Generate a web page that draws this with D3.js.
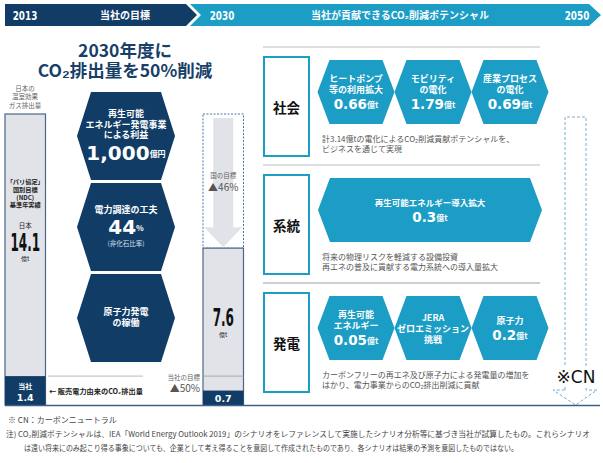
<!DOCTYPE html>
<html>
<head>
<meta charset="utf-8">
<script src="https://cdn.jsdelivr.net/npm/d3@7"></script>
<style>
  body { margin: 0; background: #fff; }
  svg { display: block; }
</style>
</head>
<body>
<div id="chart"></div>
<script>
// ---- data ----
const years = ["2013", "2030", "2050"];
const bannerTitles = ["当社の目標", "当社が貢献できるCO₂削減ポテンシャル"];

const japanEmissions = [14.1, 7.6];     // 億t (2013 basis, 2030)
const companyEmissions = [1.4, 0.7];    // 億t
const targetNames = ["国の目標", "当社の目標"];
const targetCuts = ["▲46%", "▲50%"];

const measureLabels = [["再生可能", "エネルギー発電事業", "による利益"], ["電力調達の工夫"], ["原子力発電", "の稼働"]];
const measureValues = ["1,000", "44", ""];
const measureUnits = ["億円", "%", ""];
const measureNotes = ["", "(非化石比率)", ""];

const categories = ["社会", "系統", "発電"];
const potentialLabels = [
  [["ヒートポンプ", "等の利用拡大"], ["モビリティ", "の電化"], ["産業プロセス", "の電化"]],
  [["再生可能エネルギー導入拡大"]],
  [["再生可能", "エネルギー"], ["JERA", "ゼロエミッション", "挑戦"], ["原子力"]]
];
const potentialValues = [[0.66, 1.79, 0.69], [0.3], [0.05, null, 0.2]];
const categoryNotes = [
  ["計3.14億tの電化によるCO₂削減貢献ポテンシャルを、", "ビジネスを通じて実現"],
  ["将来の物理リスクを軽減する設備投資", "再エネの普及に貢献する電力系統への導入量拡大"],
  ["カーボンフリーの再エネ及び原子力による発電量の増加を", "はかり、電力事業からのCO₂排出削減に貢献"]
];
const footnotes = [
  "※ CN：カーボンニュートラル",
  "注) CO₂削減ポテンシャルは、IEA「World Energy Outlook 2019」のシナリオをレファレンスして実施したシナリオ分析等に基づき当社が試算したもの。これらシナリオ",
  "は遠い将来にのみ起こり得る事象についても、企業として考え得ることを意図して作成されたものであり、各シナリオは結果の予測を意図したものではない。"
];

// ---- setup ----
const W = 603, H = 463;
const navy = "#113c66", teal = "#1b9dc5", barFill = "#e1e3e8", barLine = "#4d6687", dash = "#78acd6";
const jp = "'Noto Sans CJK JP', sans-serif";
const sans = "'DejaVu Sans', sans-serif";

const svg = d3.select("#chart").append("svg").attr("width", W).attr("height", H);

function hexPts(cx, cy, w, h, inset) {
  const x0 = cx - w / 2, x1 = cx + w / 2, y0 = cy - h / 2, y1 = cy + h / 2;
  return [[x0, cy], [x0 + inset, y0], [x1 - inset, y0], [x1, cy], [x1 - inset, y1], [x0 + inset, y1]]
    .map(p => p.join(",")).join(" ");
}

// condensed bold numbers (no narrow font installed, so squeeze horizontally)
function narrowText(parent, x, y, txt, size, sx, fill) {
  return parent.append("text")
    .attr("transform", `translate(${x},${y}) scale(${sx},1)`)
    .attr("text-anchor", "middle")
    .attr("font-family", sans).attr("font-weight", "bold").attr("font-size", size)
    .attr("fill", fill).text(txt);
}

// ---- banner ----
const banner = svg.append("g");
banner.append("polygon").attr("points", "5,4 186,4 197,15 186,26 5,26").attr("fill", navy);
banner.append("polygon").attr("points", "190,4 589,4 601,15 589,26 190,26 201,15").attr("fill", teal);
const yearX = d3.scaleOrdinal().domain(years).range([25, 222, 577]);
years.forEach(d => narrowText(banner, yearX(d), 20, d, 13, 0.68, "#fff"));
banner.selectAll("text.title").data(bannerTitles).join("text")
  .attr("class", "title")
  .attr("x", (d, i) => [125, 400][i]).attr("y", 19)
  .attr("text-anchor", "middle")
  .attr("font-family", jp).attr("font-weight", "bold").attr("font-size", 10)
  .attr("fill", "#fff").text(d => d);

// ---- headline ----
svg.append("text").attr("x", 125).attr("y", 57).attr("text-anchor", "middle")
  .attr("font-family", jp).attr("font-weight", "bold").attr("font-size", 17.5).attr("fill", "#173f68")
  .text("2030年度に");
svg.append("text").attr("x", 125).attr("y", 77).attr("text-anchor", "middle")
  .attr("font-family", jp).attr("font-weight", "bold").attr("font-size", 17.5).attr("fill", "#173f68")
  .text("CO₂排出量を50%削減");

// ---- emission bars ----
const y = d3.scaleLinear().domain([0, japanEmissions[0]]).range([405, 114]);
const barX = d3.scaleOrdinal().domain(years.slice(0, 2)).range([5, 203]);
const barW = 40.5;

// label above left bar
["日本の", "温室効果", "ガス排出量"].forEach((t, i) => {
  svg.append("text").attr("x", 25).attr("y", 91 + i * 8.3).attr("text-anchor", "middle")
    .attr("font-family", jp).attr("font-size", 6.5).attr("fill", "#666").text(t);
});

// dashed box + reduction arrow (2030)
const xr = barX("2030");
svg.append("rect").attr("x", xr).attr("y", y(japanEmissions[0]))
  .attr("width", barW).attr("height", y(japanEmissions[1]) - y(japanEmissions[0]))
  .attr("fill", "none").attr("stroke", "#4c74a6").attr("stroke-width", 1).attr("stroke-dasharray", "2,1.5");
{
  const cx = xr + barW / 2, top = y(japanEmissions[0]) + 4, tip = y(japanEmissions[1]) - 1;
  const headTop = tip - 20;
  svg.append("path")
    .attr("d", `M${cx - 10},${top} H${cx + 10} V${headTop} H${cx + 19} L${cx},${tip} L${cx - 19},${headTop} H${cx - 10} Z`)
    .attr("fill", barFill);
  svg.append("text").attr("x", cx).attr("y", 178).attr("text-anchor", "middle")
    .attr("font-family", jp).attr("font-size", 6.5).attr("fill", "#666").text(targetNames[0]);
  svg.append("text").attr("x", cx).attr("y", 191).attr("text-anchor", "middle")
    .attr("font-family", jp).attr("font-size", 10).attr("fill", "#555").text(targetCuts[0]);
}

// solid bars
const bars = svg.selectAll("g.bar").data(japanEmissions).join("g").attr("class", "bar");
bars.append("rect")
  .attr("x", (d, i) => barX(years[i])).attr("y", d => y(d))
  .attr("width", barW).attr("height", d => y(0) - y(d))
  .attr("fill", barFill).attr("stroke", barLine).attr("stroke-width", 1.2);
bars.append("rect")
  .attr("x", (d, i) => barX(years[i])).attr("y", (d, i) => y(companyEmissions[i]))
  .attr("width", barW).attr("height", (d, i) => y(0) - y(companyEmissions[i]))
  .attr("fill", navy);

// left bar texts
{
  const cx = barX("2013") + barW / 2;
  ["「パリ協定」", "国別目標", "(NDC)", "基準年実績"].forEach((t, i) => {
    svg.append("text").attr("x", cx).attr("y", 184 + i * 7.8).attr("text-anchor", "middle")
      .attr("font-family", jp).attr("font-weight", "bold").attr("font-size", 6.2).attr("fill", "#222").text(t);
  });
  svg.append("text").attr("x", cx).attr("y", 228).attr("text-anchor", "middle")
    .attr("font-family", jp).attr("font-size", 6.5).attr("fill", "#222").text("日本");
  narrowText(svg, cx, 251, japanEmissions[0], 24, 0.5, "#111");
  svg.append("text").attr("x", cx).attr("y", 261).attr("text-anchor", "middle")
    .attr("font-family", jp).attr("font-size", 6).attr("fill", "#222").text("億t");
  svg.append("text").attr("x", cx).attr("y", 389).attr("text-anchor", "middle")
    .attr("font-family", jp).attr("font-weight", "bold").attr("font-size", 7).attr("fill", "#fff").text("当社");
  svg.append("text").attr("x", cx).attr("y", 400.5).attr("text-anchor", "middle")
    .attr("font-family", sans).attr("font-weight", "bold").attr("font-size", 9.5).attr("fill", "#fff")
    .text(companyEmissions[0]);
}
// right bar texts
{
  const cx = xr + barW / 2;
  narrowText(svg, cx, 326, japanEmissions[1], 24, 0.5, "#111");
  svg.append("text").attr("x", cx).attr("y", 337).attr("text-anchor", "middle")
    .attr("font-family", jp).attr("font-size", 6).attr("fill", "#222").text("億t");
  svg.append("text").attr("x", cx).attr("y", 402).attr("text-anchor", "middle")
    .attr("font-family", sans).attr("font-weight", "bold").attr("font-size", 9.5).attr("fill", "#fff")
    .text(companyEmissions[1]);
}

// company target guide at 2013 company level
svg.append("line").attr("x1", 48).attr("x2", 143).attr("y1", y(companyEmissions[0])).attr("y2", y(companyEmissions[0]))
  .attr("stroke", "#bbb").attr("stroke-width", 1);
svg.append("line").attr("x1", xr).attr("x2", xr + barW).attr("y1", y(companyEmissions[0])).attr("y2", y(companyEmissions[0]))
  .attr("stroke", "#aaa").attr("stroke-width", 1);
svg.append("text").attr("x", 200).attr("y", 380).attr("text-anchor", "end")
  .attr("font-family", jp).attr("font-size", 6.5).attr("fill", "#666").text(targetNames[1]);
svg.append("text").attr("x", 200).attr("y", 392).attr("text-anchor", "end")
  .attr("font-family", jp).attr("font-size", 10).attr("fill", "#555").text(targetCuts[1]);
svg.append("text").attr("x", 49).attr("y", 394)
  .attr("font-family", jp).attr("font-weight", "bold").attr("font-size", 7.2).attr("fill", "#222")
  .text("← 販売電力由来のCO₂排出量");

// ---- measures hexagons ----
const hy = d3.scalePoint().domain(d3.range(measureLabels.length)).range([136, 318]);
const mg = svg.selectAll("g.measure").data(measureLabels).join("g").attr("class", "measure");
mg.append("polygon").attr("points", (d, i) => hexPts(126, hy(i), 98, 88, 14)).attr("fill", navy);
mg.each(function (d, i) {
  const g = d3.select(this);
  const lh = 10.5, vh = measureValues[i] ? 22 : 0, nh = measureNotes[i] ? 12 : 0;
  const total = d.length * lh + vh + nh;
  let yy = hy(i) - total / 2 - 1;
  d.forEach(t => {
    g.append("text").attr("x", 126).attr("y", yy + lh / 2).attr("dominant-baseline", "central")
      .attr("text-anchor", "middle").attr("font-family", jp).attr("font-weight", "bold")
      .attr("font-size", 9).attr("fill", "#fff").text(t);
    yy += lh;
  });
  if (vh) {
    const t = g.append("text").attr("x", 126).attr("y", yy + vh / 2 + 2).attr("dominant-baseline", "central")
      .attr("text-anchor", "middle").attr("fill", "#fff").attr("font-weight", "bold");
    t.append("tspan").attr("font-family", sans).attr("font-size", 20).text(measureValues[i]);
    t.append("tspan").attr("font-family", jp).attr("font-size", 8).text(measureUnits[i]);
    yy += vh;
  }
  if (nh) {
    g.append("text").attr("x", 126).attr("y", yy + nh / 2 + 1).attr("dominant-baseline", "central")
      .attr("text-anchor", "middle").attr("font-family", jp).attr("font-size", 6.5).attr("fill", "#dfe6ef")
      .text(measureNotes[i]);
  }
});

// ---- contribution potential panel ----
const rowTop = [57, 175, 293];
const hx = d3.scalePoint().domain([0, 1, 2]).range([356, 510]);
categories.forEach((cat, r) => {
  const top = rowTop[r];
  svg.append("line").attr("x1", 263).attr("x2", 540).attr("y1", top - 10).attr("y2", top - 10)
    .attr("stroke", "#bdbdbd").attr("stroke-width", 1);
  svg.append("rect").attr("x", 264).attr("y", top).attr("width", 45).attr("height", 99)
    .attr("fill", "#fff").attr("stroke", teal).attr("stroke-width", 2);
  svg.append("text").attr("x", 286.5).attr("y", top + 50).attr("dominant-baseline", "central")
    .attr("text-anchor", "middle").attr("font-family", jp).attr("font-weight", "bold")
    .attr("font-size", 13.5).attr("fill", "#111").text(cat);

  const cy = top + 35;
  const labels = potentialLabels[r];
  labels.forEach((lines, k) => {
    const single = labels.length === 1;
    const cx = single ? 430 : hx(k);
    const w = single ? 224 : 77;
    svg.append("polygon").attr("points", hexPts(cx, cy, w, 64, 12)).attr("fill", teal);
    const v = potentialValues[r][k];
    const lh = 11, vh = v != null ? 16 : 0;
    let yy = cy - (lines.length * lh + vh) / 2;
    lines.forEach(t => {
      svg.append("text").attr("x", cx).attr("y", yy + lh / 2).attr("dominant-baseline", "central")
        .attr("text-anchor", "middle").attr("font-family", jp).attr("font-weight", "bold")
        .attr("font-size", single ? 8.5 : 9).attr("fill", "#fff").text(t);
      yy += lh;
    });
    if (v != null) {
      const t = svg.append("text").attr("x", cx).attr("y", yy + vh / 2 + 1).attr("dominant-baseline", "central")
        .attr("text-anchor", "middle").attr("fill", "#fff").attr("font-weight", "bold");
      t.append("tspan").attr("font-family", sans).attr("font-size", 13.5).text(v);
      t.append("tspan").attr("font-family", jp).attr("font-size", 8).text("億t");
    }
  });

  categoryNotes[r].forEach((t, j) => {
    svg.append("text").attr("x", 322).attr("y", top + 85 + j * 10)
      .attr("font-family", jp).attr("font-size", 8).attr("fill", "#555").text(t);
  });
});
svg.append("line").attr("x1", 263).attr("x2", 540).attr("y1", 283).attr("y2", 283)
  .attr("stroke", "#bdbdbd").attr("stroke-width", 1);

// ---- carbon neutral arrow ----
svg.append("path")
  .attr("d", "M565,390 V117 H586 V390 H597 L575.5,405 L553,390 Z")
  .attr("fill", "none").attr("stroke", dash).attr("stroke-width", 1).attr("stroke-dasharray", "3,2");
svg.append("rect").attr("x", 556).attr("y", 366).attr("width", 40).attr("height", 20).attr("fill", "#fff");
svg.append("text").attr("x", 576).attr("y", 383).attr("text-anchor", "middle")
  .attr("font-family", sans).attr("font-size", 17).attr("fill", "#111").text("※CN");

// ---- baseline ----
svg.append("line").attr("x1", 5).attr("x2", 600).attr("y1", 405.5).attr("y2", 405.5)
  .attr("stroke", "#3f5f86").attr("stroke-width", 1.5);

// ---- footnotes ----
svg.append("text").attr("x", 8).attr("y", 423).attr("font-family", jp).attr("font-size", 8)
  .attr("fill", "#444").text(footnotes[0]);
svg.append("text").attr("x", 6).attr("y", 437).attr("font-family", jp).attr("font-size", 7.6)
  .attr("fill", "#444").attr("textLength", 584).attr("lengthAdjust", "spacingAndGlyphs").text(footnotes[1]);
svg.append("text").attr("x", 24).attr("y", 451).attr("font-family", jp).attr("font-size", 7.6)
  .attr("fill", "#444").attr("textLength", 494).attr("lengthAdjust", "spacingAndGlyphs").text(footnotes[2]);
</script>
</body>
</html>
